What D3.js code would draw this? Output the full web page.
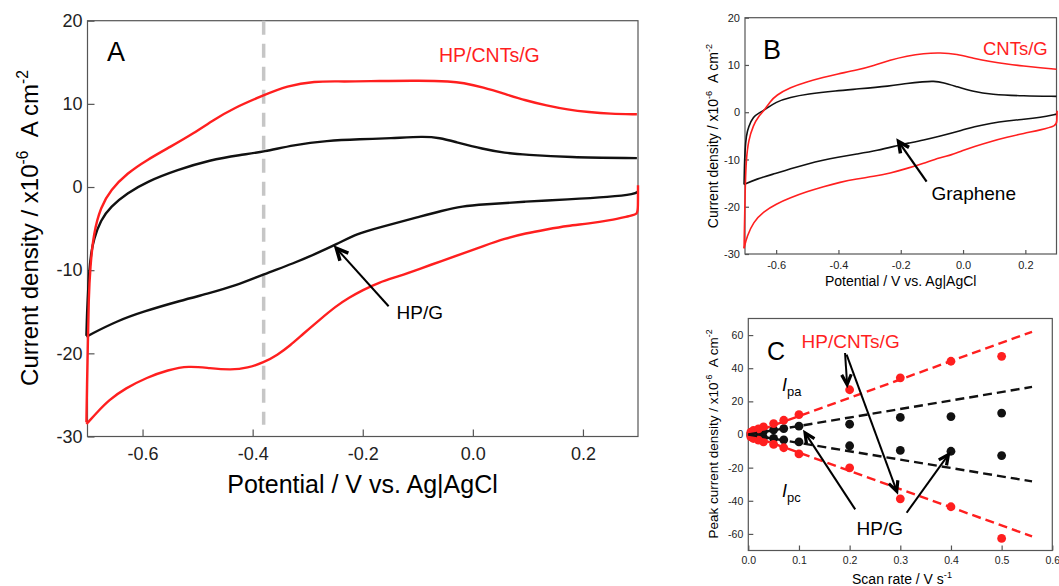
<!DOCTYPE html>
<html>
<head>
<meta charset="utf-8">
<script src="https://cdn.jsdelivr.net/npm/d3@7"></script>
<style>
  body { margin: 0; background: #fff; }
  svg { display: block; font-family: 'Liberation Sans', Arial, sans-serif; }
</style>
</head>
<body>
<div id="chart"></div>
<script>
// ---- panel A : HP/CNTs/G (red) and HP/G (black), [potential V, current 1e-6 A cm-2]
const aRedFwd = [[-0.702,-28.3],[-0.701,-24],[-0.699,-18],[-0.698,-13.6],[-0.695,-9.6],[-0.689,-5.55],[-0.676,-2.4],
  [-0.658,-0.35],[-0.628,1.66],[-0.592,3.26],[-0.549,4.86],[-0.507,6.47],[-0.471,8.07],[-0.435,9.47],
  [-0.379,11.07],[-0.338,12.15],[-0.289,12.75],[-0.235,12.67],[-0.172,12.75],[-0.095,12.8],[-0.04,12.7],
  [-0.019,12.55],[0.019,12.0],[0.058,11.2],[0.096,10.4],[0.134,9.8],[0.172,9.3],[0.211,9.0],[0.249,8.8],[0.298,8.75]]
const aRedRev = [[0.300,0.2],[0.300,-2.5],[0.299,-3.3],[0.287,-3.45],[0.249,-4.0],[0.211,-4.4],[0.172,-4.66],[0.134,-5.1],
  [0.096,-5.56],[0.058,-6.2],[0.019,-7.1],[-0.019,-8.0],[-0.057,-8.9],[-0.095,-9.8],[-0.133,-10.7],
  [-0.172,-11.5],[-0.2,-12.4],[-0.225,-13.3],[-0.248,-14.3],[-0.279,-16.0],[-0.309,-17.7],[-0.332,-19.06],
  [-0.355,-20.2],[-0.38,-21.1],[-0.409,-21.76],[-0.439,-22.0],[-0.478,-21.8],[-0.516,-21.5],[-0.554,-22.0],
  [-0.592,-22.9],[-0.631,-24.2],[-0.661,-25.6],[-0.684,-27.2],[-0.699,-28.3],[-0.702,-28.5]]
const aBlackFwd = [[-0.702,-17.9],[-0.701,-15.5],[-0.700,-14],[-0.697,-10],[-0.693,-7.8],[-0.689,-6.36],[-0.676,-3.95],
  [-0.658,-2.36],[-0.628,-0.75],[-0.592,0.65],[-0.537,2.06],[-0.477,3.26],[-0.423,3.86],[-0.379,4.25],
  [-0.326,5.06],[-0.265,5.58],[-0.205,5.75],[-0.15,5.85],[-0.088,6.1],[-0.06,5.9],[-0.034,5.46],
  [0.019,4.56],[0.058,4.1],[0.096,3.89],[0.172,3.57],[0.298,3.48]]
const aBlackRev = [[0.300,-0.5],[0.299,-0.6],[0.295,-0.84],[0.249,-1.2],[0.172,-1.5],[0.096,-1.74],[0.019,-2.1],[-0.019,-2.3],
  [-0.057,-2.86],[-0.095,-3.54],[-0.172,-4.9],[-0.21,-5.6],[-0.248,-6.9],[-0.286,-8.04],[-0.325,-9.16],
  [-0.38,-10.5],[-0.432,-11.9],[-0.478,-12.76],[-0.531,-13.66],[-0.6,-15.0],[-0.646,-16.1],[-0.697,-17.8],[-0.702,-18]]
const aMarker = -0.38
const aXTicks = [-0.6, -0.4, -0.2, 0, 0.2]
const aYTicks = [-30, -20, -10, 0, 10, 20]

// ---- panel B : CNTs/G (red) and Graphene (black)
const bRedFwd = [[-0.703,-28.8],[-0.702,-25],[-0.701,-22],[-0.699,-15],[-0.696,-10],[-0.689,-5.9],[-0.673,-2.7],
  [-0.657,-0.9],[-0.639,0.3],[-0.62,2.2],[-0.6,3.6],[-0.555,5.26],[-0.501,6.46],[-0.448,7.4],[-0.405,8.08],
  [-0.341,8.9],[-0.287,9.85],[-0.234,11.05],[-0.18,11.9],[-0.127,12.45],[-0.073,12.6],[-0.02,12.3],
  [0.034,11.4],[0.088,10.7],[0.141,10.2],[0.195,9.77],[0.248,9.4],[0.3,9.1]]
const bRedRev = [[0.302,0.3],[0.301,-2],[0.3,-2.9],[0.248,-3.77],[0.195,-4.47],[0.141,-5.3],[0.088,-6.2],[0.034,-7.3],
  [0,-8.1],[-0.037,-9.05],[-0.073,-9.55],[-0.127,-10.8],[-0.18,-11.9],[-0.234,-12.9],[-0.287,-13.6],
  [-0.341,-14.1],[-0.395,-14.8],[-0.448,-15.75],[-0.501,-16.8],[-0.555,-18.1],[-0.6,-19.4],[-0.641,-21.04],
  [-0.673,-23.2],[-0.694,-26.3],[-0.703,-28.8]]
const bBlackFwd = [[-0.703,-15.3],[-0.702,-12],[-0.7,-8],[-0.696,-5],[-0.689,-3.06],[-0.673,-0.9],
  [-0.655,-0.15],[-0.639,0.4],[-0.6,2.23],[-0.555,3.15],[-0.501,3.85],[-0.405,4.56],[-0.341,4.9],
  [-0.234,5.54],[-0.18,6.1],[-0.127,6.46],[-0.095,6.6],[-0.063,6.3],[-0.02,5.4],[0.034,4.34],
  [0.088,3.78],[0.195,3.43],[0.3,3.36]]
const bBlackRev = [[0.3,-0.4],[0.248,-1.1],[0.195,-1.5],[0.141,-1.8],[0.088,-2.35],[0.034,-3.06],[0,-3.77],
  [-0.073,-5.04],[-0.127,-5.9],[-0.18,-6.6],[-0.204,-6.94],[-0.277,-8.14],[-0.341,-8.84],[-0.405,-9.55],
  [-0.448,-10.1],[-0.501,-10.96],[-0.555,-12.0],[-0.6,-12.93],[-0.662,-14.1],[-0.703,-15.3]]
const bXTicks = [-0.6, -0.4, -0.2, 0, 0.2]
const bYTicks = [-30, -20, -10, 0, 10, 20]

// ---- panel C : peak current vs scan rate
const cRate = [0.005, 0.01, 0.02, 0.03, 0.05, 0.07, 0.1, 0.2, 0.3, 0.4, 0.5]
const cRedPa = [1.4, 2.4, 3.4, 4.6, 6.6, 8.6, 12.0, 27.0, 34.2, 44.2, 47.2]
const cRedPc = [-1.4, -2.4, -3.4, -4.4, -6.0, -8.0, -11.7, -20.1, -38.8, -43.6, -62.7]
const cBlackPa = [0.6, 0.9, 1.4, 1.9, 2.8, 3.6, 5.0, 6.2, 10.3, 10.8, 12.9]
const cBlackPc = [-0.6, -0.9, -1.4, -1.9, -2.4, -3.2, -4.5, -6.8, -9.6, -10.1, -12.7]
const cFitX = [0, 0.56]
const cRedPaFit = [0, 62]
const cRedPcFit = [0, -61.5]
const cBlackPaFit = [0, 28.7]
const cBlackPcFit = [0, -28.3]
const cXTicks = [0, 0.1, 0.2, 0.3, 0.4, 0.5, 0.6]
const cYTicks = [-60, -40, -20, 0, 20, 40, 60]

const W = 1059, H = 586
const RED = '#ff1f1f', BLACK = '#111', FRAME = '#555'
const FONT = "'Liberation Sans', Arial, sans-serif"

const svg = d3.select('#chart').append('svg').attr('width', W).attr('height', H)

const makePanel = (o) => {
    const x = d3.scaleLinear().domain(o.xDomain).range([o.left, o.right])
    const y = d3.scaleLinear().domain(o.yDomain).range([o.bottom, o.top])
    const g = svg.append('g')

    const xa = g.append('g')
        .attr('transform', `translate(0,${o.bottom})`)
        .call(d3.axisBottom(x).tickValues(o.xTicks).tickFormat(d => d.toFixed(1))
            .tickSizeInner(-o.tick).tickSizeOuter(0).tickPadding(o.xPad))
    const ya = g.append('g')
        .attr('transform', `translate(${o.left},0)`)
        .call(d3.axisLeft(y).tickValues(o.yTicks).tickFormat(d => String(d))
            .tickSizeInner(-o.tick).tickSizeOuter(0).tickPadding(o.yPad))
    for (const a of [xa, ya]) {
        a.attr('font-family', FONT).attr('font-size', o.tickFont)
        a.select('.domain').remove()
        a.selectAll('line').attr('stroke', FRAME).attr('stroke-width', 1.2)
        a.selectAll('text').attr('fill', '#222')
    }
    g.append('rect')
        .attr('x', o.left).attr('y', o.top)
        .attr('width', o.right - o.left).attr('height', o.bottom - o.top)
        .attr('fill', 'none').attr('stroke', FRAME).attr('stroke-width', 1.2)
    return { x, y, g }
}

// text with superscripts / subscripts; parts = [[text, kind]]
const richText = (parent, parts, size, attrs) => {
    const t = parent.append('text').attr('font-size', size).attr('font-family', FONT)
    Object.entries(attrs).forEach(([k, v]) => t.attr(k, v))
    parts.forEach(([s, kind]) => {
        const ts = t.append('tspan').text(s)
        if (kind === 'sup') ts.attr('font-size', size * 0.65).attr('baseline-shift', size * 0.42)
        if (kind === 'sub') ts.attr('font-size', size * 0.72).attr('baseline-shift', -size * 0.3)
        if (kind === 'it') ts.attr('font-style', 'italic')
    })
    return t
}

const arrow = (g, p0, p1, o) => {
    const [x0, y0] = p0, [x1, y1] = p1
    const ang = Math.atan2(y1 - y0, x1 - x0)
    const a1 = ang + Math.PI - 0.45, a2 = ang + Math.PI + 0.45
    g.append('line').attr('x1', x0).attr('y1', y0).attr('x2', x1).attr('y2', y1)
        .attr('stroke', '#000').attr('stroke-width', o.width)
    g.append('path')
        .attr('d', `M${x1 + o.head * Math.cos(a1)},${y1 + o.head * Math.sin(a1)}L${x1},${y1}L${x1 + o.head * Math.cos(a2)},${y1 + o.head * Math.sin(a2)}`)
        .attr('fill', 'none').attr('stroke', '#000').attr('stroke-width', o.headWidth)
        .attr('stroke-linejoin', 'miter')
}

const curve = (p, data, color, width) => p.g.append('path')
    .datum(data)
    .attr('fill', 'none').attr('stroke', color).attr('stroke-width', width)
    .attr('stroke-linejoin', 'round')
    .attr('d', d3.line().x(d => p.x(d[0])).y(d => p.y(d[1])).curve(d3.curveBasis))

// ================= panel A
const A = makePanel({ xDomain: [-0.7, 0.3], yDomain: [-30, 20], left: 87.5, right: 638, top: 20.7, bottom: 436.5,
    xTicks: aXTicks, yTicks: aYTicks, tick: 7, tickFont: 18, xPad: 10.5, yPad: 5 })

A.g.append('line')
    .attr('x1', A.x(aMarker)).attr('x2', A.x(aMarker))
    .attr('y1', A.y(20)).attr('y2', A.y(-28.6))
    .attr('stroke', '#c6c6c6').attr('stroke-width', 3.5).attr('stroke-dasharray', '14,9')

curve(A, aBlackFwd, BLACK, 2.4)
curve(A, aBlackRev, BLACK, 2.4)
curve(A, aRedFwd, RED, 2.4)
curve(A, aRedRev, RED, 2.4)

A.g.append('text').attr('x', 107).attr('y', 61).attr('font-size', 27).text('A')
A.g.append('text').attr('x', 439).attr('y', 62).attr('font-size', 19.5).attr('fill', RED).text('HP/CNTs/G')
A.g.append('text').attr('x', 396.5).attr('y', 319).attr('font-size', 19).text('HP/G')
arrow(A.g, [A.x(-0.153), A.y(-14.34)], [A.x(-0.248), A.y(-7.36)], { width: 2, head: 13, headWidth: 3.5 })

richText(svg, [['Potential / V vs. Ag|AgCl']], 25, { x: 362.5, y: 493, 'text-anchor': 'middle' })
richText(svg, [['Current density / x10'], ['-6', 'sup'], ['\u00a0\u00a0A cm'], ['-2', 'sup']], 24,
    { transform: 'translate(38,228) rotate(-90)', 'text-anchor': 'middle' })

// ================= panel B
const B = makePanel({ xDomain: [-0.7, 0.3], yDomain: [-30, 20], left: 745, right: 1056.5, top: 17.7, bottom: 254,
    xTicks: bXTicks, yTicks: bYTicks, tick: 4, tickFont: 11, xPad: 7, yPad: 5 })

curve(B, bBlackFwd, BLACK, 1.6)
curve(B, bBlackRev, BLACK, 1.6)
curve(B, bRedFwd, RED, 1.6)
curve(B, bRedRev, RED, 1.6)

B.g.append('text').attr('x', 763).attr('y', 59).attr('font-size', 27).text('B')
B.g.append('text').attr('x', 983).attr('y', 55).attr('font-size', 18.5).attr('fill', RED).text('CNTs/G')
B.g.append('text').attr('x', 931.5).attr('y', 200).attr('font-size', 19).text('Graphene')
arrow(B.g, [B.x(-0.117), B.y(-14.7)], [B.x(-0.207), B.y(-6.2)], { width: 2.2, head: 12, headWidth: 3.5 })

richText(svg, [['Potential / V vs. Ag|AgCl']], 14, { x: 900.7, y: 286, 'text-anchor': 'middle' })
richText(svg, [['Current density / x10'], ['-6', 'sup'], ['\u00a0\u00a0A cm'], ['-2', 'sup']], 14,
    { transform: 'translate(718,136) rotate(-90)', 'text-anchor': 'middle' })

// ================= panel C
const C = makePanel({ xDomain: [0, 0.6], yDomain: [-70, 70], left: 748.3, right: 1052.3, top: 318.5, bottom: 550.5,
    xTicks: cXTicks, yTicks: cYTicks, tick: 5, tickFont: 10.5, xPad: 6, yPad: 5 })

const dots = (vals, color) => C.g.append('g').selectAll('circle')
    .data(cRate.map((r, i) => [r, vals[i]]))
    .join('circle')
    .attr('cx', d => C.x(d[0])).attr('cy', d => C.y(d[1])).attr('r', 4.4)
    .attr('fill', color)

dots(cBlackPa, BLACK)
dots(cBlackPc, BLACK)
dots(cRedPa, RED)
dots(cRedPc, RED)

const fit = (vals, color) => C.g.append('path')
    .datum(cFitX.map((r, i) => [r, vals[i]]))
    .attr('fill', 'none').attr('stroke', color).attr('stroke-width', 2.4)
    .attr('stroke-dasharray', '9,5')
    .attr('d', d3.line().x(d => C.x(d[0])).y(d => C.y(d[1])))

fit(cRedPaFit, RED)
fit(cRedPcFit, RED)
fit(cBlackPaFit, BLACK)
fit(cBlackPcFit, BLACK)

C.g.append('text').attr('x', 767).attr('y', 360).attr('font-size', 25).text('C')
C.g.append('text').attr('x', 801.5).attr('y', 348.3).attr('font-size', 19).attr('fill', RED).text('HP/CNTs/G')
C.g.append('text').attr('x', 856.5).attr('y', 535).attr('font-size', 19).text('HP/G')
richText(C.g, [['I', 'it'], ['pa', 'sub']], 18, { x: 782, y: 391 })
richText(C.g, [['I', 'it'], ['pc', 'sub']], 18, { x: 782, y: 497 })

const cArrow = { width: 2, head: 11, headWidth: 3.2 }
arrow(C.g, [C.x(0.191), C.y(49.2)], [C.x(0.195), C.y(30.2)], cArrow)
arrow(C.g, [C.x(0.194), C.y(48.2)], [C.x(0.293), C.y(-34.2)], cArrow)
arrow(C.g, [C.x(0.211), C.y(-45.2)], [C.x(0.112), C.y(1.0)], cArrow)
arrow(C.g, [C.x(0.3125), C.y(-47.2)], [C.x(0.395), C.y(-12.1)], cArrow)

richText(svg, [['Scan rate / V s'], ['-1', 'sup']], 14, { x: 902, y: 584, 'text-anchor': 'middle' })
richText(svg, [['Peak current density / x10'], ['-6', 'sup'], ['\u00a0\u00a0A cm'], ['-2', 'sup']], 13.5,
    { transform: 'translate(718,434) rotate(-90)', 'text-anchor': 'middle' })
</script>
</body>
</html>
